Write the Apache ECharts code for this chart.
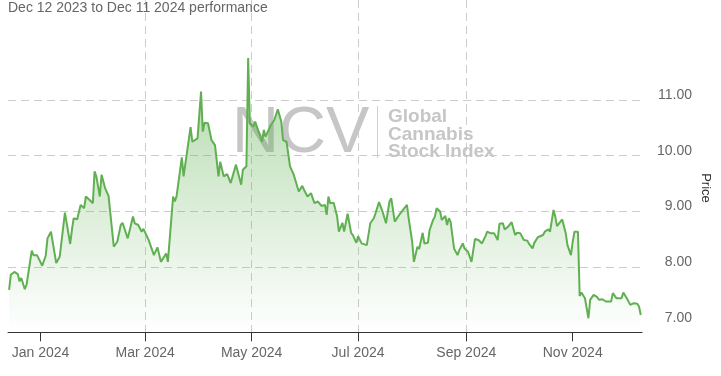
<!DOCTYPE html>
<html><head><meta charset="utf-8">
<script src="https://cdn.jsdelivr.net/npm/echarts@6/dist/echarts.min.js"></script>
<style>html,body{margin:0;padding:0;background:#fff}#c{width:721px;height:376px}</style>
</head><body><div id="c"></div>
<script>
const titleText = 'Dec 12 2023 to Dec 11 2024 performance';
const axisName = 'Price';
const dates = [
'2023-12-14','2023-12-15','2023-12-17','2023-12-19','2023-12-20','2023-12-21','2023-12-23','2023-12-24','2023-12-27','2023-12-28','2023-12-30',
'2024-01-02','2024-01-04','2024-01-05','2024-01-07','2024-01-10','2024-01-12','2024-01-15','2024-01-18','2024-01-19','2024-01-20','2024-01-22','2024-01-24','2024-01-26','2024-01-27','2024-01-29','2024-01-31',
'2024-02-01','2024-02-02','2024-02-04','2024-02-05','2024-02-07','2024-02-09','2024-02-10','2024-02-12','2024-02-14','2024-02-16','2024-02-17','2024-02-20','2024-02-23','2024-02-24','2024-02-26','2024-02-28','2024-02-29',
'2024-03-03','2024-03-04','2024-03-06','2024-03-07','2024-03-08','2024-03-10','2024-03-11','2024-03-13','2024-03-14','2024-03-17','2024-03-18','2024-03-19','2024-03-22','2024-03-23','2024-03-27','2024-03-28','2024-03-31',
'2024-04-02','2024-04-03','2024-04-04','2024-04-06','2024-04-08','2024-04-10','2024-04-12','2024-04-13','2024-04-15','2024-04-17','2024-04-19','2024-04-20','2024-04-22','2024-04-23','2024-04-25','2024-04-26','2024-04-28','2024-04-29','2024-04-30',
'2024-05-02','2024-05-03','2024-05-05','2024-05-07','2024-05-08','2024-05-09','2024-05-12','2024-05-14','2024-05-16','2024-05-18','2024-05-19','2024-05-21','2024-05-23','2024-05-25','2024-05-26','2024-05-28','2024-05-30','2024-05-31',
'2024-06-02','2024-06-04','2024-06-06','2024-06-08','2024-06-10','2024-06-12','2024-06-13','2024-06-14','2024-06-15','2024-06-17','2024-06-19','2024-06-20','2024-06-22','2024-06-23','2024-06-25','2024-06-27','2024-06-28','2024-06-30',
'2024-07-01','2024-07-03','2024-07-04','2024-07-06','2024-07-08','2024-07-10','2024-07-11','2024-07-13','2024-07-14','2024-07-15','2024-07-17','2024-07-19','2024-07-20','2024-07-22','2024-07-23','2024-07-25','2024-07-26','2024-07-27','2024-07-29','2024-07-30',
'2024-08-01','2024-08-02','2024-08-04','2024-08-05','2024-08-07','2024-08-08','2024-08-10','2024-08-11','2024-08-13','2024-08-14','2024-08-15','2024-08-17','2024-08-18','2024-08-20','2024-08-21','2024-08-22','2024-08-23','2024-08-25','2024-08-27','2024-08-28','2024-08-30','2024-08-31',
'2024-09-02','2024-09-04','2024-09-06','2024-09-08','2024-09-10','2024-09-12','2024-09-13','2024-09-15','2024-09-16','2024-09-17','2024-09-19','2024-09-20','2024-09-22','2024-09-23','2024-09-25','2024-09-27','2024-09-29','2024-09-30',
'2024-10-02','2024-10-04','2024-10-06','2024-10-07','2024-10-09','2024-10-10','2024-10-12','2024-10-13','2024-10-15','2024-10-16','2024-10-18','2024-10-19','2024-10-21','2024-10-22','2024-10-23','2024-10-25','2024-10-26','2024-10-28','2024-10-29','2024-10-31',
'2024-11-01','2024-11-02','2024-11-04','2024-11-05','2024-11-06','2024-11-08','2024-11-10','2024-11-11','2024-11-13','2024-11-15','2024-11-16','2024-11-18','2024-11-20','2024-11-21','2024-11-23','2024-11-24','2024-11-26','2024-11-27','2024-11-29','2024-11-30',
'2024-12-02','2024-12-04','2024-12-06','2024-12-08','2024-12-09','2024-12-10'
];
const prices = [
7.60,7.87,7.92,7.88,7.75,7.81,7.61,7.69,8.30,8.22,8.22,
8.03,8.21,8.52,8.64,8.08,8.19,8.98,8.42,8.67,8.88,8.86,9.12,9.06,9.27,9.21,9.15,
9.72,9.63,9.27,9.66,9.42,9.28,9.27,8.37,8.46,8.76,8.80,8.52,8.91,8.79,8.76,8.64,8.69,
8.49,8.40,8.22,8.22,8.36,8.10,8.08,8.25,8.10,9.27,9.18,9.28,9.97,9.63,10.51,10.25,10.31,
11.15,10.43,10.59,10.58,10.28,10.19,9.63,9.89,9.63,9.67,9.51,9.48,9.84,9.72,9.48,9.75,9.81,11.75,10.58,
10.52,10.61,10.43,10.25,10.46,10.34,10.55,10.64,10.83,10.61,10.28,10.25,9.81,9.67,9.57,9.36,9.46,9.39,
9.27,9.33,9.15,9.18,9.10,9.12,8.94,9.27,9.15,9.16,8.91,8.64,8.80,8.64,8.96,8.62,8.58,8.44,
8.56,8.43,8.46,8.40,8.79,8.88,8.97,9.17,9.15,9.00,8.79,9.18,9.24,8.82,8.82,8.96,8.98,9.04,9.12,8.88,
8.46,8.10,8.37,8.33,8.62,8.43,8.44,8.67,8.85,8.91,9.06,9.00,8.85,8.92,8.76,8.88,8.82,8.34,8.22,8.31,8.43,8.34,
8.28,8.10,8.51,8.49,8.43,8.56,8.64,8.61,8.58,8.61,8.49,8.78,8.79,8.68,8.73,8.81,8.58,8.62,
8.61,8.49,8.48,8.42,8.34,8.44,8.54,8.51,8.58,8.64,8.68,8.64,9.03,8.91,8.74,8.82,8.86,8.61,8.40,8.22,
8.46,8.64,8.64,7.49,7.55,7.45,7.09,7.42,7.51,7.47,7.42,7.43,7.39,7.37,7.39,7.54,7.45,7.47,7.45,7.55,
7.45,7.33,7.36,7.35,7.30,7.15
];
const xTickDates = ['2024-01-01','2024-03-01','2024-05-01','2024-07-01','2024-09-01','2024-11-01'];
const xTickLabels = ['Jan 2024','Mar 2024','May 2024','Jul 2024','Sep 2024','Nov 2024'];
const xRange = ['2023-12-13T09:00', '2024-12-10T17:00'];
const yGridValues = [7, 8, 9, 10, 11, 12];
const yLabelValues = [7, 8, 9, 10, 11];

function toTime(s) {
  const m = s.match(/^(\d{4})-(\d{2})-(\d{2})(?:T(\d{2}):(\d{2}))?/);
  return Date.UTC(+m[1], +m[2] - 1, +m[3], m[4] ? +m[4] : 0, m[5] ? +m[5] : 0);
}

const chart = echarts.init(document.getElementById('c'), null, {renderer: 'canvas'});
const xTickStamps = xTickDates.map(toTime);
const FONT = '"Liberation Sans", Arial, sans-serif';
const GREEN = 'rgb(96,176,82)';
const GRID = '#cccccc';

chart.setOption({
  animation: false,
  backgroundColor: '#fff',
  textStyle: {fontFamily: FONT},
  title: {
    text: titleText, left: 8, top: 1, padding: 0,
    textStyle: {color: '#666', fontSize: 14, fontWeight: 'normal', fontFamily: FONT}
  },
  grid: {left: 8, right: 79, top: 0, bottom: 43.7},
  xAxis: {
    type: 'value',
    min: toTime(xRange[0]),
    max: toTime(xRange[1]),
    axisLine: {show: true, onZero: false, lineStyle: {color: '#333', width: 1}},
    axisTick: {show: true, length: 9, lineStyle: {color: '#333'}, customValues: xTickStamps},
    axisLabel: {
      customValues: xTickStamps, color: '#666', fontSize: 14, fontFamily: FONT, margin: 14,
      formatter: v => { const i = xTickStamps.indexOf(+v); return i >= 0 ? xTickLabels[i] : ''; }
    },
    splitLine: {show: true, showMinLine: false, showMaxLine: false, lineStyle: {color: GRID, width: 1, type: [8, 5]}}
  },
  yAxis: {
    type: 'value', position: 'right',
    min: 6.839, max: 12.787,
    axisLine: {show: false},
    axisTick: {show: false, customValues: yGridValues},
    axisLabel: {
      customValues: yLabelValues, align: 'right', margin: 50, color: '#666', fontSize: 14, fontFamily: FONT,
      verticalAlign: 'bottom', lineHeight: 10,
      formatter: v => Number(v).toFixed(2)
    },
    splitLine: {show: true, showMinLine: false, showMaxLine: false, lineStyle: {color: GRID, width: 1, type: [8, 5]}}
  },
  graphic: [
    {type: 'text', x: 706, y: 188, rotation: -Math.PI / 2, z: 5,
     style: {text: axisName, fill: '#333', font: '13px ' + FONT, align: 'center', verticalAlign: 'middle'}},
    {type: 'text', x: 232, y: 134, z: 1, silent: true,
     style: {text: 'NCV', fill: '#c6c6c6', font: '65px ' + FONT, align: 'left', verticalAlign: 'middle'}},
    {type: 'line', z: 1, silent: true, shape: {x1: 377.5, y1: 106, x2: 377.5, y2: 158}, style: {stroke: '#cfcfcf', lineWidth: 1}},
    {type: 'text', x: 388, y: 117, z: 1, silent: true,
     style: {text: 'Global', fill: '#c6c6c6', font: 'bold 19px ' + FONT, align: 'left', verticalAlign: 'middle'}},
    {type: 'text', x: 388, y: 135, z: 1, silent: true,
     style: {text: 'Cannabis', fill: '#c6c6c6', font: 'bold 19px ' + FONT, align: 'left', verticalAlign: 'middle'}},
    {type: 'text', x: 388, y: 152, z: 1, silent: true,
     style: {text: 'Stock Index', fill: '#c6c6c6', font: 'bold 19px ' + FONT, align: 'left', verticalAlign: 'middle'}}
  ],
  series: [{
    type: 'line', z: 2,
    data: dates.map((d, i) => [toTime(d), prices[i]]),
    showSymbol: false, symbol: 'none',
    lineStyle: {color: GREEN, width: 2},
    itemStyle: {color: GREEN},
    areaStyle: {
      origin: 'start',
      color: new echarts.graphic.LinearGradient(0, 0, 0, 332, [
        {offset: 0, color: 'rgba(96,176,82,0.85)'},
        {offset: 1, color: 'rgba(96,176,82,0)'}
      ], true)
    }
  }]
});
</script></body></html>
